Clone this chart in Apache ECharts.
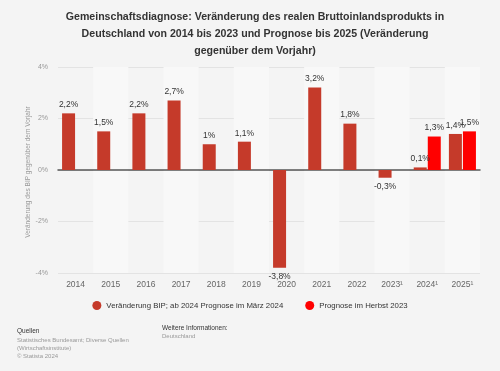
<!DOCTYPE html>
<html><head><meta charset="utf-8">
<script src="https://cdn.jsdelivr.net/npm/echarts@6/dist/echarts.min.js"></script>
<style>html,body{margin:0;padding:0;background:#f4f4f4;}#c{width:500px;height:371px;}</style>
</head><body><div id="c"></div>
<script>
const categories = ['2014','2015','2016','2017','2018','2019','2020','2021','2022','2023¹','2024¹','2025¹'];
const bipValues = [2.2,1.5,2.2,2.7,1.0,1.1,-3.8,3.2,1.8,-0.3,0.1,1.4];
const herbstValues = [null,null,null,null,null,null,null,null,null,null,1.3,1.5];
const yTicks = [-4,-2,0,2,4];
const seriesNames = ['Veränderung BIP; ab 2024 Prognose im März 2024','Prognose im Herbst 2023'];
const yAxisTitle = 'Veränderung des BIP gegenüber dem Vorjahr';

const fmt = v => String(v).replace('.', ',') + '%';
const toItems = arr => arr.map(v => v == null ? null : ({value:v, label:{position: v < 0 ? 'bottom' : 'top'}}));
const chart = echarts.init(document.getElementById('c'), null, {renderer:'canvas'});
const font = 'Arial, "Liberation Sans", sans-serif';
chart.setOption({
  backgroundColor:'#f4f4f4',
  textStyle:{fontFamily:font},
  animation:false,
  title:{
    text:'Gemeinschaftsdiagnose: Veränderung des realen Bruttoinlandsprodukts in\nDeutschland von 2014 bis 2023 und Prognose bis 2025 (Veränderung\ngegenüber dem Vorjahr)',
    left:250, top:4, textAlign:'center',
    textStyle:{fontFamily:font,fontSize:10.6,fontWeight:'bold',color:'#333',lineHeight:17}
  },
  grid:{left:58,right:20,top:67,bottom:98},
  legend:{
    top:296, left:'center', itemGap:22, icon:'circle', itemWidth:9, itemHeight:9,
    textStyle:{fontFamily:font,fontSize:7.8,color:'#333'},
    data:seriesNames
  },
  xAxis:{
    type:'category', data:categories,
    axisLine:{onZero:true,lineStyle:{color:'#555',width:1.5}},
    axisTick:{show:false},
    axisLabel:{color:'#666',fontSize:8.5,margin:7},
    splitArea:{show:true,areaStyle:{color:['rgba(0,0,0,0)','#f8f8f8']}}
  },
  yAxis:{
    type:'value', min:-4, max:4, interval:2,
    axisLabel:{color:'#999',fontSize:7,margin:10,formatter:v=>yTicks.includes(v)?v+'%':''},
    splitLine:{lineStyle:{color:'#e3e3e3'}},
    axisLine:{show:false},axisTick:{show:false}
  },
  series:[
    {name:seriesNames[0],type:'bar',data:toItems(bipValues),barWidth:13,barGap:'8%',
     itemStyle:{color:'#c53a2a'},
     label:{show:true,position:'top',color:'#333',fontSize:8.5,distance:4,formatter:p=>fmt(p.value)}},
    {name:seriesNames[1],type:'bar',data:toItems(herbstValues),barWidth:13,
     itemStyle:{color:'#ff0000'},
     label:{show:true,position:'top',color:'#333',fontSize:8.5,distance:4,formatter:p=>p.value==null?'':fmt(p.value)}}
  ],
  graphic:[
    {type:'text',x:28,y:172,rotation:Math.PI/2,style:{text:yAxisTitle,font:'6.5px '+font,fill:'#999',align:'center',verticalAlign:'middle'}},
    {type:'text',left:17,top:328,style:{text:'Quellen',font:'6.5px '+font,fill:'#333'}},
    {type:'text',left:17,top:336,style:{text:'Statistisches Bundesamt; Diverse Quellen\n(Wirtschaftsinstitute)\n© Statista 2024',font:'6px '+font,fill:'#999',lineHeight:8}},
    {type:'text',left:162,top:325,style:{text:'Weitere Informationen:',font:'6.5px '+font,fill:'#333'}},
    {type:'text',left:162,top:333,style:{text:'Deutschland',font:'6px '+font,fill:'#999'}}
  ]
});
</script></body></html>
